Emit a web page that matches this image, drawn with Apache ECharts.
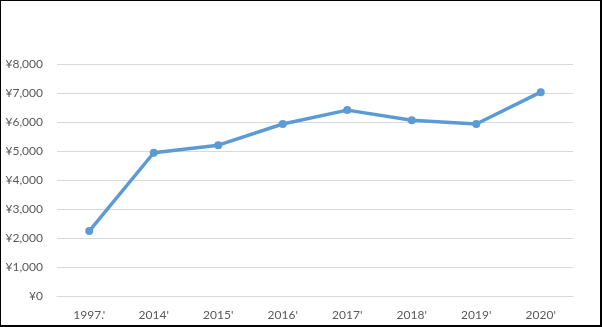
<!DOCTYPE html>
<html>
<head>
<meta charset="utf-8">
<script src="https://cdn.jsdelivr.net/npm/echarts@6/dist/echarts.min.js"></script>
<style>
html,body{margin:0;padding:0;background:#fff;}
#frame{position:absolute;left:0;top:0;width:602px;height:327px;box-sizing:border-box;border-top:1px solid #000;border-left:1px solid #000;border-right:2px solid #000;border-bottom:2px solid #000;pointer-events:none;z-index:2;}
#chart{position:absolute;left:0;top:0;width:602px;height:327px;}
</style>
</head>
<body>
<div id="chart"></div>
<div id="frame"></div>
<script>
const categories = ["1997.'", "2014'", "2015'", "2016'", "2017'", "2018'", "2019'", "2020'"];
const values = [2240, 4940, 5200, 5930, 6410, 6060, 5930, 7030];

const chart = echarts.init(document.getElementById('chart'), null, {renderer: 'canvas'});
chart.setOption({
  animation: false,
  backgroundColor: '#fff',
  grid: {left: 57, right: 29, top: 64, bottom: 31, containLabel: false},
  xAxis: {
    type: 'category',
    data: categories,
    boundaryGap: true,
    axisLine: {show: true, lineStyle: {color: '#D9D9D9', width: 1}},
    axisTick: {show: false},
    axisLabel: {color: '#595959', fontSize: 12, fontFamily: 'Lato', margin: 13}
  },
  yAxis: {
    type: 'value',
    min: 0,
    max: 8000,
    interval: 1000,
    axisLine: {show: false},
    axisTick: {show: false},
    splitLine: {lineStyle: {color: '#D9D9D9', width: 1}},
    axisLabel: {
      color: '#595959', fontSize: 12, fontFamily: 'Lato', margin: 14,
      formatter: v => '¥' + v.toLocaleString('en-US')
    }
  },
  series: [{
    type: 'line',
    data: values,
    symbol: 'circle',
    symbolSize: 8,
    lineStyle: {color: '#5B9BD5', width: 3.5},
    itemStyle: {color: '#5B9BD5'}
  }]
});
</script>
</body>
</html>
